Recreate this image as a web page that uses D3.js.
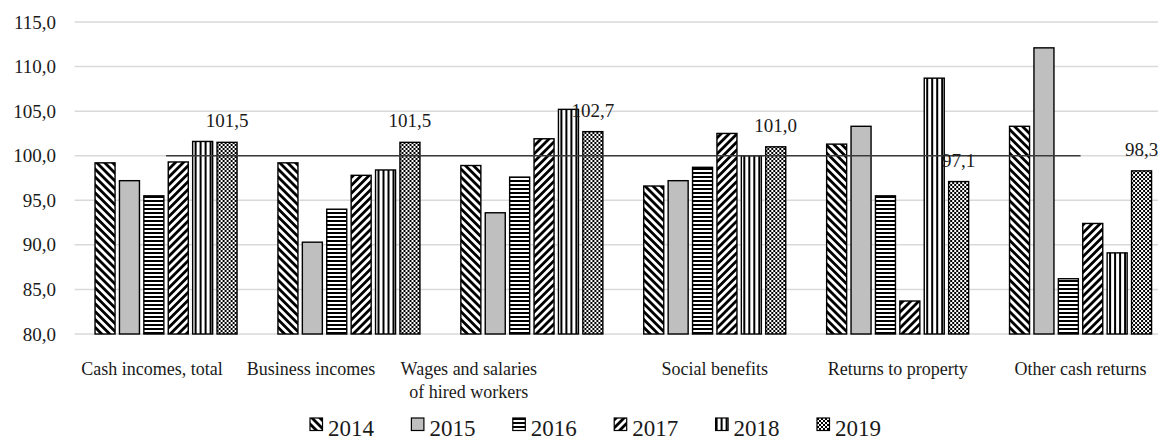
<!DOCTYPE html>
<html>
<head>
<meta charset="utf-8">
<script src="https://cdn.jsdelivr.net/npm/d3@7/dist/d3.min.js"></script>
<style>
  html, body { margin: 0; padding: 0; background: #fff; }
</style>
</head>
<body>
<div id="chart"></div>
<script>
// Income growth indices by source (previous year = 100)
const categories = [
  ["Cash incomes, total"],
  ["Business incomes"],
  ["Wages and salaries", "of hired workers"],
  ["Social benefits"],
  ["Returns to property"],
  ["Other cash returns"]
];
const years = ["2014", "2015", "2016", "2017", "2018", "2019"];
const values2014 = [99.2, 99.2, 98.9, 96.6, 101.3, 103.3];
const values2015 = [97.2, 90.3, 93.6, 97.2, 103.3, 112.1];
const values2016 = [95.5, 94.0, 97.6, 98.7, 95.5, 86.2];
const values2017 = [99.3, 97.8, 101.9, 102.5, 83.7, 92.4];
const values2018 = [101.6, 98.4, 105.2, 100.0, 108.7, 89.1];
const values2019 = [101.5, 101.5, 102.7, 101.0, 97.1, 98.3];
const baseline = 100;
const yTicks = [80, 85, 90, 95, 100, 105, 110, 115];

const seriesValues = [values2014, values2015, values2016, values2017, values2018, values2019];
const catKeys = categories.map(c => c.join(" "));
const fmt = v => d3.format(".1f")(v).replace(".", ",");
const SERIF = "'Liberation Serif', Tinos, 'Noto Serif', FreeSerif, 'DejaVu Serif', Times, serif";
// horizontal nudges of the category captions
const captionShift = [-14, -38, -63, 0, 0, 0];

const W = 1158, H = 440;
const svg = d3.select("#chart").append("svg").attr("width", W).attr("height", H);

// Fill patterns, one per year
const defs = svg.append("defs");
function stripes(id, angle, period, thick) {
  const p = defs.append("pattern").attr("id", id)
    .attr("patternUnits", "userSpaceOnUse")
    .attr("width", period).attr("height", period)
    .attr("patternTransform", `rotate(${angle})`);
  p.append("rect").attr("width", period).attr("height", period).attr("fill", "#fff");
  p.append("rect").attr("width", thick).attr("height", period).attr("fill", "#000");
}
stripes("p2014", -45, 5.6, 2.8);
stripes("p2017", 45, 5.6, 2.8);
stripes("p2018", 0, 5, 2);
(() => {
  const p = defs.append("pattern").attr("id", "p2016")
    .attr("patternUnits", "userSpaceOnUse").attr("width", 4).attr("height", 4);
  p.append("rect").attr("width", 4).attr("height", 4).attr("fill", "#fff");
  p.append("rect").attr("width", 4).attr("height", 2).attr("fill", "#000");
})();
(() => {
  const p = defs.append("pattern").attr("id", "p2019")
    .attr("patternUnits", "userSpaceOnUse").attr("width", 4).attr("height", 4);
  p.append("rect").attr("width", 4).attr("height", 4).attr("fill", "#fff");
  p.append("rect").attr("width", 2).attr("height", 2).attr("fill", "#000");
  p.append("rect").attr("x", 2).attr("y", 2).attr("width", 2).attr("height", 2).attr("fill", "#000");
})();
const fills = {
  "2014": "url(#p2014)", "2015": "#bfbfbf", "2016": "url(#p2016)",
  "2017": "url(#p2017)", "2018": "url(#p2018)", "2019": "url(#p2019)"
};

// Scales
const x0 = d3.scaleBand().domain(catKeys).range([74.6, 1172]).paddingInner(0).paddingOuter(0);
const x1 = d3.scaleBand().domain(years).range([0, x0.bandwidth()])
  .paddingInner(0.18).paddingOuter(0.838);
const y = d3.scaleLinear().domain([80, 115]).range([334, 22]);

// Gridlines and y tick labels
const yAxis = d3.axisLeft(y).tickValues(yTicks).tickSize(0).tickPadding(0).tickFormat(fmt);
const gy = svg.append("g").attr("transform", "translate(56,0)").call(yAxis);
gy.attr("font-family", null);
gy.select(".domain").remove();
gy.selectAll("text").attr("font-size", 19).attr("fill", "#1a1a1a").style("font-family", SERIF);

svg.append("g").selectAll("line").data(yTicks).join("line")
  .attr("x1", 74.6).attr("x2", 1172)
  .attr("y1", d => y(d)).attr("y2", d => y(d))
  .attr("stroke", "#d9d9d9").attr("stroke-width", 1.5);

// Bars
const groups = svg.append("g").selectAll("g").data(catKeys).join("g")
  .attr("transform", d => `translate(${x0(d)},0)`);
groups.selectAll("rect")
  .data((d, i) => years.map((yr, s) => ({ yr, v: seriesValues[s][i] })))
  .join("rect")
  .attr("x", d => x1(d.yr))
  .attr("width", x1.bandwidth())
  .attr("y", d => y(d.v))
  .attr("height", d => y(80) - y(d.v))
  .attr("fill", d => fills[d.yr])
  .attr("stroke", "#000").attr("stroke-width", 1.4);

// Reference line at 100
const lineGen = d3.line().x(d => x0(d) + x0.bandwidth() / 2).y(() => y(baseline));
svg.append("path").datum(catKeys).attr("d", lineGen)
  .attr("fill", "none").attr("stroke", "#3a3a3a").attr("stroke-width", 1.5);

// 2019 value labels
svg.append("g").selectAll("text").data(catKeys).join("text")
  .attr("x", (d, i) => x0(d) + x1("2019") + x1.bandwidth() / 2)
  .attr("y", (d, i) => y(values2019[i]) - 15)
  .attr("text-anchor", "middle").attr("font-size", 19).attr("fill", "#1a1a1a")
  .style("font-family", SERIF)
  .text((d, i) => fmt(values2019[i]));

// Category labels
const cl = svg.append("g").selectAll("text").data(categories).join("text")
  .attr("text-anchor", "middle").attr("font-size", 18).attr("fill", "#1a1a1a")
  .style("font-family", SERIF)
  .attr("x", (d, i) => x0(catKeys[i]) + x0.bandwidth() / 2 + captionShift[i])
  .attr("y", 375);
cl.selectAll("tspan").data(d => d).join("tspan")
  .attr("x", function () { return this.parentNode.getAttribute("x"); })
  .attr("dy", (d, j) => j === 0 ? 0 : 23)
  .text(d => d);

// Legend
const lx = d3.scalePoint().domain(years).range([310, 817]);
const leg = svg.append("g").selectAll("g").data(years).join("g")
  .attr("transform", d => `translate(${lx(d)},418)`);
leg.append("rect").attr("width", 12.5).attr("height", 12.5)
  .attr("fill", d => fills[d]).attr("stroke", "#000").attr("stroke-width", 1.2);
leg.append("text").attr("x", 18).attr("y", 18).attr("font-size", 23).attr("fill", "#1a1a1a")
  .style("font-family", SERIF)
  .text(d => d);
</script>
</body>
</html>
